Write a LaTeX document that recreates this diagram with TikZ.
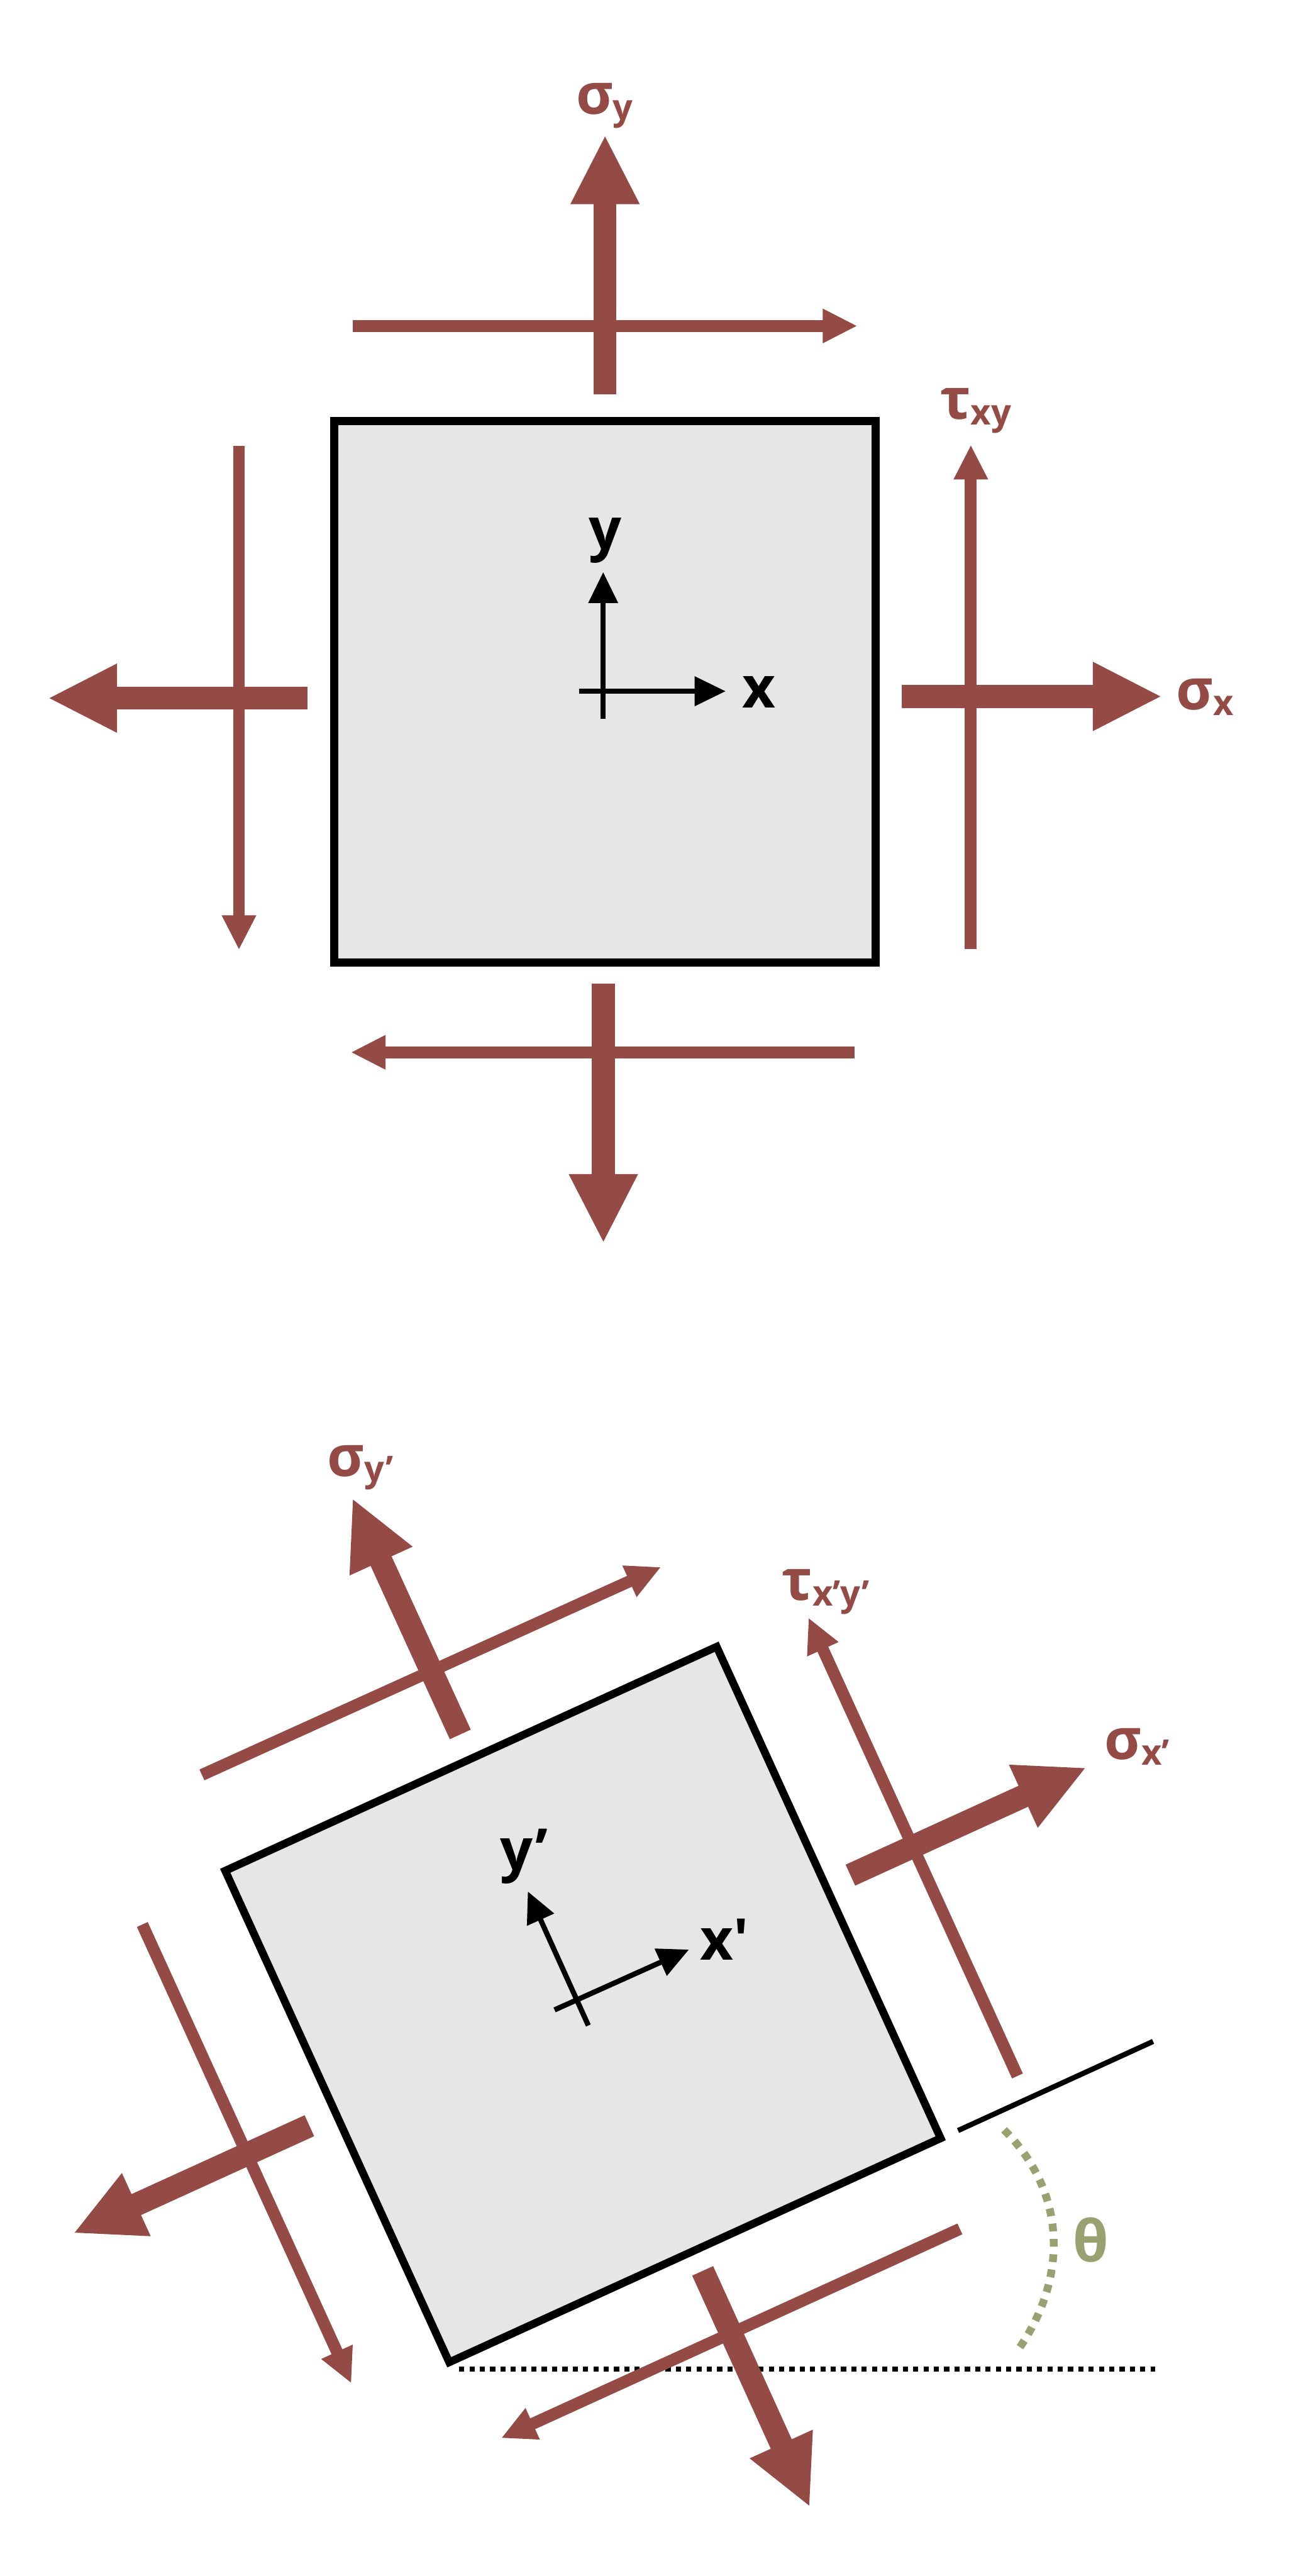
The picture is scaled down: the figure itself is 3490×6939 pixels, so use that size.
\documentclass[tikz,border=0pt]{standalone}
\usepackage{fontspec}
\setmainfont{Open Sans}[Ligatures=TeXOff]
\usetikzlibrary{arrows.meta}
\definecolor{stressred}{HTML}{944A45}
\definecolor{olivearc}{HTML}{98A270}
\definecolor{platefill}{HTML}{E6E6E6}
\newcommand{\stresslabel}[2]{{\fontsize{30.5pt}{31pt}\selectfont #1}\raisebox{-3pt}{\fontsize{19pt}{19pt}\selectfont #2}}
\tikzset{
  plate/.style={draw=black,fill=platefill,line width=4.2pt,line join=miter},
  normalarrow/.style={draw=stressred,line width=12.4pt,-{Triangle[length=37.4pt,width=34.4pt,fill=stressred]}},
  shearline/.style={draw=stressred,line width=6.4pt,-{Triangle[length=18.7pt,width=17.2pt,fill=stressred]}},
  axisarrow/.style={draw=black,line width=2.8pt,-{Triangle[length=16.7pt,width=15.4pt,fill=black]}},
  reftext/.style={inner sep=0pt,anchor=base west,font=\bfseries\fontsize{31pt}{31pt}\selectfont},
  stresstext/.style={inner sep=0pt,anchor=base west,text=stressred,font=\bfseries},
  refline/.style={draw=black,line width=2.8pt},
  refdots/.style={draw=black,line width=2.8pt,dash pattern=on 2.78pt off 2.78pt},
  anglearc/.style={draw=olivearc,line width=4.2pt,dash pattern=on 4.2pt off 4.07pt}
}
\begin{document}
\begin{tikzpicture}[x=0.2pt,y=-0.2pt]
\useasboundingbox (0,0) rectangle (3490,6939);
% upper element
\draw[plate] (900.5,1134.5) rectangle (2359,2592.5);
\coordinate (ya) at (1625,1937); \coordinate (yb) at (1625,1541);
\coordinate (xa) at (1560,1862); \coordinate (xb) at (1955,1862);
\draw[axisarrow] (ya) -- (yb);
\draw[axisarrow] (xa) -- (xb);
\node[reftext] (labx) at (1998,1906) {x};
\node[reftext] (laby) at (1585,1480) {y};
% upper stresses
\coordinate (sta) at (1630,1063); \coordinate (stb) at (1630,363);
\coordinate (tta) at (951,878); \coordinate (ttb) at (2310,878);
\coordinate (sra) at (2430,1876); \coordinate (srb) at (3131,1876);
\coordinate (tra) at (2615.5,2556); \coordinate (trb) at (2615.5,1198);
\coordinate (sba) at (1625.5,2649); \coordinate (sbb) at (1625.5,3349.5);
\coordinate (tba) at (2303,2834.6); \coordinate (tbb) at (945,2834.6);
\coordinate (sla) at (828.7,1880.6); \coordinate (slb) at (128.5,1880.6);
\coordinate (tla) at (643.8,1201); \coordinate (tlb) at (643.8,2559);
\draw[normalarrow] (sta) -- (stb);
\draw[shearline] (tta) -- (ttb);
\draw[normalarrow] (sra) -- (srb);
\draw[shearline] (tra) -- (trb);
\draw[normalarrow] (sba) -- (sbb);
\draw[shearline] (tba) -- (tbb);
\draw[normalarrow] (sla) -- (slb);
\draw[shearline] (tla) -- (tlb);
\node[stresstext] (labsy) at (1551,308) {\stresslabel{σ}{y}};
\node[stresstext] (labsx) at (3168,1912) {\stresslabel{σ}{x}};
\node[stresstext] (labtxy) at (2532,1129) {\stresslabel{τ}{xy}};
% lower element
\draw[plate] (1930.8,4435.8) -- (2534.2,5759.8) -- (1210.2,6363.2) -- (606.8,5039.2) -- cycle;
\coordinate (ypa) at (1585,5456); \coordinate (ypb) at (1422,5095);
\coordinate (xpa) at (1494,5414); \coordinate (xpb) at (1856,5251.5);
\draw[axisarrow] (ypa) -- (ypb);
\draw[axisarrow] (xpa) -- (xpb);
\node[reftext] (labxp) at (1886,5280) {x'};
\node[reftext] (labyp) at (1347,5037) {y’};
% reference lines
\coordinate (rla) at (2581,5739); \coordinate (rlb) at (3106.5,5499);
\coordinate (rda) at (1237,6381); \coordinate (rdb) at (3112,6381);
\draw[refline] (rla) -- (rlb);
\draw[refdots] (rda) -- (rdb);
\coordinate (aa) at (2705,5737); \coordinate (ab) at (2746,6325);
\draw[anglearc] (aa) .. controls (2878,5910) and (2874,6139) .. (ab);
\node[inner sep=0pt,anchor=base west,text=olivearc,font=\bfseries\fontsize{31pt}{31pt}\selectfont] (labth) at (2890,6092) {θ};
% lower stresses
\coordinate (pta) at (1240,4672); \coordinate (ptb) at (949,4035);
\coordinate (qta) at (544,4781); \coordinate (qtb) at (1781,4221);
\coordinate (pra) at (2291,5051); \coordinate (prb) at (2927,4761);
\coordinate (qra) at (2741,5592); \coordinate (qrb) at (2178,4357.5);
\coordinate (pba) at (1893,6117); \coordinate (pbb) at (2182,6753.6);
\coordinate (qba) at (2586,6004); \coordinate (qbb) at (1350,6567.6);
\coordinate (pla) at (833.5,5726); \coordinate (plb) at (197,6016);
\coordinate (qla) at (383.4,5184); \coordinate (qlb) at (946.5,6420);
\draw[normalarrow] (pta) -- (ptb);
\draw[shearline] (qta) -- (qtb);
\draw[normalarrow] (pra) -- (prb);
\draw[shearline] (qra) -- (qrb);
\draw[normalarrow] (pba) -- (pbb);
\draw[shearline] (qba) -- (qbb);
\draw[normalarrow] (pla) -- (plb);
\draw[shearline] (qla) -- (qlb);
\node[stresstext] (labsyp) at (881,3976) {\stresslabel{σ}{y’}};
\node[stresstext] (labsxp) at (2975,4740) {\stresslabel{σ}{x’}};
\node[stresstext] (labtxp) at (2106,4310) {\stresslabel{τ}{x’y’}};
\end{tikzpicture}
\end{document}
